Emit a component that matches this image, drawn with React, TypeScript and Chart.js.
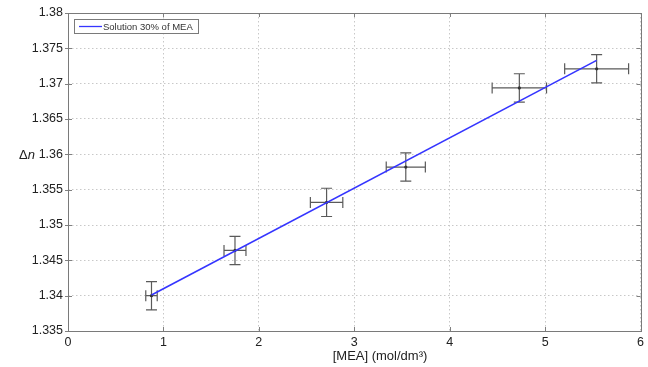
import React, { useEffect, useRef } from "react";
import { Chart, registerables } from "chart.js";

Chart.register(...registerables);

const seriesLabel = "Solution 30% of MEA";
const concX = [0.875, 1.75, 2.71, 3.54, 4.73, 5.54];
const deltaN = [1.34, 1.3464, 1.3532, 1.3582, 1.3694, 1.3721];
const errX = [0.06, 0.115, 0.17, 0.205, 0.285, 0.335];
const errY = [0.002, 0.002, 0.002, 0.002, 0.002, 0.002];
const fitX = [0.875, 5.54];
const fitY = [1.3401, 1.3733];
const xTitle = "[MEA] (mol/dm³)";
const yTitleA = "Δ";
const yTitleB = "n";

const FONT = "'Liberation Sans', Arial, sans-serif";

const decorPlugin = {
  id: "decor",
  beforeDatasetsDraw(chart: any) {
    const { ctx, chartArea: a } = chart;
    const xs = chart.scales.x;
    const ys = chart.scales.y;
    ctx.save();
    ctx.strokeStyle = "#808080";
    ctx.lineWidth = 1;
    const L = 4;
    xs.ticks.forEach((t: any) => {
      const px = Math.round(xs.getPixelForValue(t.value)) + 0.5;
      ctx.beginPath();
      ctx.moveTo(px, a.bottom);
      ctx.lineTo(px, a.bottom - L);
      ctx.moveTo(px, a.top);
      ctx.lineTo(px, a.top + L);
      ctx.stroke();
    });
    ys.ticks.forEach((t: any) => {
      const py = Math.round(ys.getPixelForValue(t.value)) + 0.5;
      ctx.beginPath();
      ctx.moveTo(a.left - 3, py);
      ctx.lineTo(a.left + L, py);
      ctx.moveTo(a.right, py);
      ctx.lineTo(a.right - L, py);
      ctx.stroke();
    });
    ctx.strokeStyle = "#7a7a7a";
    ctx.strokeRect(Math.round(a.left) + 0.5, Math.round(a.top) + 0.5, Math.round(a.right - a.left), Math.round(a.bottom - a.top));
    ctx.strokeStyle = "#5a5a5a";
    ctx.lineWidth = 1.2;
    const cap = 5.5;
    concX.forEach((xv, i) => {
      const px = xs.getPixelForValue(xv);
      const py = ys.getPixelForValue(deltaN[i]);
      const yT = ys.getPixelForValue(deltaN[i] + errY[i]);
      const yB = ys.getPixelForValue(deltaN[i] - errY[i]);
      const xL = xs.getPixelForValue(xv - errX[i]);
      const xR = xs.getPixelForValue(xv + errX[i]);
      ctx.beginPath();
      ctx.moveTo(px, yT);
      ctx.lineTo(px, yB);
      ctx.moveTo(px - cap, yT);
      ctx.lineTo(px + cap, yT);
      ctx.moveTo(px - cap, yB);
      ctx.lineTo(px + cap, yB);
      ctx.moveTo(xL, py);
      ctx.lineTo(xR, py);
      ctx.moveTo(xL, py - cap);
      ctx.lineTo(xL, py + cap);
      ctx.moveTo(xR, py - cap);
      ctx.lineTo(xR, py + cap);
      ctx.stroke();
    });
    ctx.restore();
  },
  afterDraw(chart: any) {
    const { ctx, chartArea: a } = chart;
    ctx.save();
    const lx = a.left + 6;
    const ly = a.top + 6;
    const lw = 124;
    const lh = 14;
    ctx.fillStyle = "#ffffff";
    ctx.fillRect(lx, ly, lw, lh);
    ctx.strokeStyle = "#7a7a7a";
    ctx.lineWidth = 1;
    ctx.strokeRect(lx + 0.5, ly + 0.5, lw, lh);
    ctx.strokeStyle = "#3535ff";
    ctx.lineWidth = 1.3;
    ctx.beginPath();
    ctx.moveTo(lx + 5, ly + 7.5);
    ctx.lineTo(lx + 28, ly + 7.5);
    ctx.stroke();
    ctx.fillStyle = "#333333";
    ctx.font = `9.5px ${FONT}`;
    ctx.textBaseline = "middle";
    ctx.textAlign = "left";
    ctx.fillText(seriesLabel, lx + 29, ly + 8);
    ctx.fillStyle = "#222222";
    ctx.font = `13px ${FONT}`;
    ctx.textAlign = "center";
    ctx.fillText(xTitle, 380, 356);
    ctx.textAlign = "left";
    ctx.font = `13px ${FONT}`;
    const wA = ctx.measureText(yTitleA).width;
    ctx.fillText(yTitleA, 19, 155);
    ctx.font = `italic 13px ${FONT}`;
    ctx.fillText(yTitleB, 19 + wA, 155);
    ctx.restore();
  },
};

export default function App() {
  const ref = useRef<HTMLCanvasElement | null>(null);
  useEffect(() => {
    if (!ref.current) return;
    const chart = new Chart(ref.current, {
      type: "scatter",
      data: {
        datasets: [
          {
            type: "line",
            label: seriesLabel,
            data: fitX.map((x, i) => ({ x, y: fitY[i] })),
            borderColor: "#3535ff",
            borderWidth: 1.6,
            pointRadius: 0,
            fill: false,
          } as any,
          {
            label: "points",
            data: concX.map((x, i) => ({ x, y: deltaN[i] })),
            pointRadius: 1.6,
            pointBackgroundColor: "#333333",
            pointBorderColor: "#333333",
            pointBorderWidth: 0,
          },
        ],
      },
      options: {
        responsive: false,
        animation: false,
        devicePixelRatio: 1,
        layout: { padding: { top: 13, right: 7, left: 0, bottom: 0 } },
        plugins: { legend: { display: false }, tooltip: { enabled: false } },
        scales: {
          x: {
            type: "linear",
            min: 0,
            max: 6,
            ticks: { stepSize: 1, color: "#222", font: { family: FONT, size: 12.5 }, padding: 4, maxRotation: 0 },
            grid: { color: "#c8c8c8", tickLength: 0, drawTicks: false, lineWidth: 1 },
            border: { display: false, dash: [1.5, 2.5] },
            afterFit: (s: any) => { s.height = 36; },
          },
          y: {
            type: "linear",
            min: 1.335,
            max: 1.38,
            ticks: {
              stepSize: 0.005,
              color: "#222",
              font: { family: FONT, size: 12.5 },
              padding: 5,
              callback: (v: any) => String(Number(Number(v).toFixed(3))),
            },
            grid: { color: "#c8c8c8", drawTicks: false, tickLength: 0, lineWidth: 1 },
            border: { display: false, dash: [1.5, 2.5] },
            afterFit: (s: any) => { s.width = 68; },
          },
        },
      },
      plugins: [decorPlugin],
    });
    return () => chart.destroy();
  }, []);
  return (
    <div style={{ position: "fixed", left: 0, top: 0, width: 648, height: 367, background: "#fff" }}>
      <canvas ref={ref} width={648} height={367} />
    </div>
  );
}
